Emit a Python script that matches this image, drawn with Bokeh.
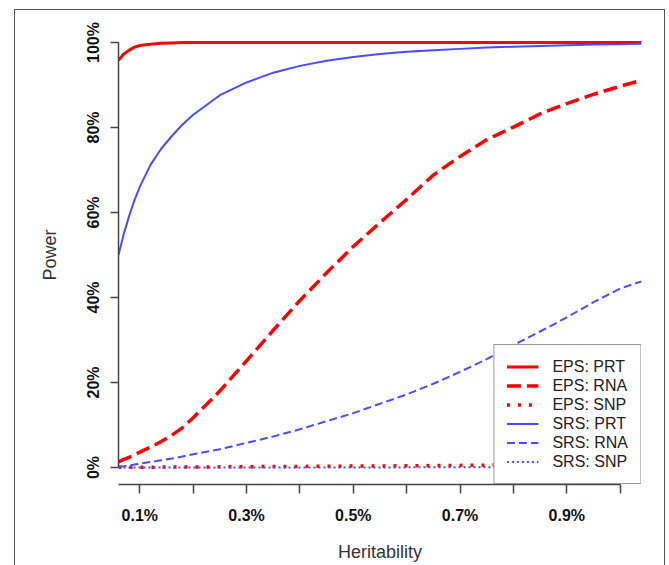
from bokeh.plotting import figure
from bokeh.models import Range1d, FixedTicker, Legend, LegendItem
from bokeh.embed import file_html
from bokeh.resources import INLINE

# Heritability (%)
heritability = [0.06, 0.07, 0.08, 0.09, 0.10, 0.12, 0.14, 0.16, 0.18, 0.20, 0.25, 0.30,
                0.35, 0.40, 0.45, 0.50, 0.55, 0.60, 0.65, 0.70, 0.75, 0.80, 0.85, 0.90,
                0.95, 1.00, 1.04]

# Power (%)
eps_prt = [95.8, 97.3, 98.2, 98.9, 99.3, 99.6, 99.8, 99.9, 100, 100, 100, 100,
           100, 100, 100, 100, 100, 100, 100, 100, 100, 100, 100, 100,
           100, 100, 100]
eps_rna = [1.3, 1.9, 2.4, 3.0, 3.6, 4.8, 6.1, 7.6, 9.4, 11.7, 18.0, 25.1,
           32.3, 39.3, 45.8, 52.0, 57.6, 63.1, 68.8, 73.2, 77.1, 80.1, 83.2, 85.6,
           87.8, 89.7, 91.1]
eps_snp = [0.05, 0.05, 0.06, 0.06, 0.07, 0.08, 0.09, 0.1, 0.1, 0.1, 0.15, 0.2,
           0.22, 0.25, 0.3, 0.33, 0.36, 0.4, 0.45, 0.5, 0.55, 0.6, 0.65, 0.7,
           0.74, 0.78, 0.8]
srs_prt = [50.0, 55.0, 59.2, 62.9, 66.1, 71.2, 75.0, 78.0, 80.7, 83.0, 87.6, 90.6,
           92.9, 94.5, 95.7, 96.6, 97.3, 97.8, 98.2, 98.5, 98.8, 99.0, 99.2, 99.35,
           99.5, 99.6, 99.7]
srs_rna = [0.2, 0.3, 0.5, 0.7, 0.9, 1.3, 1.7, 2.1, 2.6, 3.1, 4.3, 5.8,
           7.3, 9.0, 10.9, 12.8, 15.0, 17.2, 19.7, 22.5, 25.5, 28.8, 32.0, 35.3,
           38.9, 42.1, 43.8]
srs_snp = [0.0, 0.0, 0.0, 0.0, 0.0, 0.0, 0.0, 0.01, 0.01, 0.01, 0.01, 0.01,
           0.02, 0.02, 0.02, 0.02, 0.02, 0.03, 0.03, 0.03, 0.03, 0.03, 0.04, 0.04,
           0.04, 0.05, 0.05]

x_ticks = [0.1, 0.2, 0.3, 0.4, 0.5, 0.6, 0.7, 0.8, 0.9, 1.0]
x_tick_labels = ["0.1%", "", "0.3%", "", "0.5%", "", "0.7%", "", "0.9%", ""]
y_ticks = [0, 20, 40, 60, 80, 100]
y_tick_labels = ["0%", "20%", "40%", "60%", "80%", "100%"]

series_names = ["EPS: PRT", "EPS: RNA", "EPS: SNP", "SRS: PRT", "SRS: RNA", "SRS: SNP"]

RED = "#ff0000"
BLUE = "#4b4bff"
FONT = "Liberation Sans"

p = figure(width=669, height=565,
           x_range=Range1d(0.06, 1.04), y_range=Range1d(-4, 104),
           output_backend="svg", toolbar_location=None,
           min_border_left=118, min_border_right=28,
           min_border_top=25, min_border_bottom=81)

p.outline_line_color = None
p.xgrid.visible = False
p.ygrid.visible = False
p.background_fill_color = "white"
p.border_fill_color = "white"

# outer frame drawn with CSS over the canvas
p.stylesheets = [
    ":host { position: relative; }"
    ":host::after { content: ''; position: absolute; left: 14px; top: 9px; "
    "width: 651px; height: 600px; border: 1.5px solid #555555; "
    "box-sizing: border-box; pointer-events: none; z-index: 10; }"
]

r1 = p.line(heritability, eps_prt, line_color=RED, line_width=3)
r2 = p.line(heritability, eps_rna, line_color=RED, line_width=3.5, line_dash="14 6")
r3 = p.line(heritability, eps_snp, line_color=RED, line_width=3.5, line_dash="3 8")
r4 = p.line(heritability, srs_prt, line_color=BLUE, line_width=2)
r5 = p.line(heritability, srs_rna, line_color=BLUE, line_width=2, line_dash="8 4")
r6 = p.line(heritability, srs_snp, line_color=BLUE, line_width=2, line_dash="2 3")

# axes
xa = p.xaxis[0]
xa.ticker = FixedTicker(ticks=x_ticks)
xa.major_label_overrides = {t: l for t, l in zip(x_ticks, x_tick_labels)}
xa.bounds = (0.06, 1.0)
xa.minor_tick_line_color = None
xa.major_tick_in = 0
xa.major_tick_out = 9
xa.axis_line_color = "#444444"
xa.axis_line_width = 1.5
xa.major_tick_line_color = "#444444"
xa.major_tick_line_width = 1.5
xa.major_label_text_font = FONT
xa.major_label_text_font_style = "bold"
xa.major_label_text_font_size = "16px"
xa.major_label_text_color = "#111111"
xa.major_label_standoff = 13
xa.axis_label = "Heritability"
xa.axis_label_text_font = FONT
xa.axis_label_text_font_style = "normal"
xa.axis_label_text_font_size = "18px"
xa.axis_label_text_color = "#333333"
xa.axis_label_standoff = 15

ya = p.yaxis[0]
ya.ticker = FixedTicker(ticks=y_ticks)
ya.major_label_overrides = {t: l for t, l in zip(y_ticks, y_tick_labels)}
ya.bounds = (0, 100)
ya.minor_tick_line_color = None
ya.major_tick_in = 0
ya.major_tick_out = 8
ya.axis_line_color = "#444444"
ya.axis_line_width = 1.5
ya.major_tick_line_color = "#444444"
ya.major_tick_line_width = 1.5
ya.major_label_orientation = "vertical"
ya.major_label_text_font = FONT
ya.major_label_text_font_style = "bold"
ya.major_label_text_font_size = "16px"
ya.major_label_text_color = "#111111"
ya.major_label_standoff = 9
ya.axis_label = "Power"
ya.axis_label_text_font = FONT
ya.axis_label_text_font_style = "normal"
ya.axis_label_text_font_size = "18px"
ya.axis_label_text_color = "#333333"
ya.axis_label_standoff = 22

legend = Legend(items=[LegendItem(label=n, renderers=[r]) for n, r in
                       zip(series_names, [r1, r2, r3, r4, r5, r6])],
                location="bottom_right")
legend.margin = 0
legend.padding = 12
legend.spacing = 0
legend.glyph_width = 32
legend.glyph_height = 19
legend.label_height = 19
legend.label_standoff = 14
legend.label_text_font = FONT
legend.label_text_font_size = "16px"
legend.label_text_color = "#222222"
legend.border_line_color = "#333333"
legend.border_line_width = 1.5
legend.background_fill_color = "white"
legend.background_fill_alpha = 1.0
p.add_layout(legend)

open("out.html", "w").write(file_html(p, INLINE))
